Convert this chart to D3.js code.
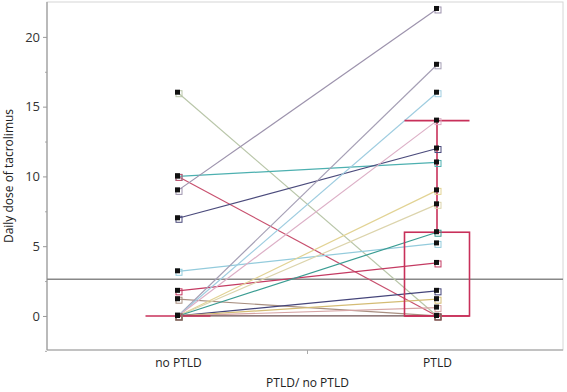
<!DOCTYPE html>
<html>
<head>
<meta charset="utf-8">
<script src="https://cdn.jsdelivr.net/npm/d3@7"></script>
<style>
  body { margin: 0; background: #fff; }
  svg { display: block; font-family: 'Open Sans', 'DejaVu Sans', sans-serif; }
</style>
</head>
<body>
<svg id="chart" width="567" height="392"></svg>
<script>
const categories = ['no PTLD', 'PTLD']

// one entry per patient: dose without PTLD, dose with PTLD
const noPtld = [16, 10, 10, 9, 7, 3.2, 1.8, 1.2, 0, 0, 0, 0, 0, 0, 0, 0, 0, 0]
const ptld = [0, 11, 0, 22, 12, 5.2, 3.8, 0, 18, 16, 14, 9, 8, 6, 1.8, 1.2, 0.6, 0]
const pairColors = [
  '#b9c6a9', '#4db0b0', '#c8506e', '#9d93ad', '#4b4b7c', '#93cbdc',
  '#c43a62', '#a88f80', '#a59fb5', '#9fcde0', '#dcafc6', '#e2d394',
  '#dcd4ac', '#3a9c92', '#45457a', '#d4bc74', '#d6a4a4', '#6e5050'
]

// [low whisker, q1, median, q3, high whisker]
const boxStats = [
  [0, 0, 0, 0, 0],
  [0, 0, 0, 6, 14]
]
const refLine = 2.63

const yTicks = [0, 5, 10, 15, 20]
const yMinorTicks = [-2.5, 2.5, 7.5, 12.5, 17.5]

const frame = { left: 47, right: 563, top: 2, bottom: 350 }
const boxColor = '#c8305a'

const svg = d3.select('#chart')

const x = d3.scalePoint().domain(categories).range([178, 437])
const y = d3.scaleLinear().domain([-2.44, 22.5]).range([frame.bottom, frame.top])

// frame
svg.append('rect')
  .attr('x', frame.left).attr('y', frame.top)
  .attr('width', frame.right - frame.left).attr('height', frame.bottom - frame.top)
  .attr('fill', 'none').attr('stroke', '#d6d6d6').attr('stroke-width', 1)

// y axis
const yAxis = svg.append('g').attr('transform', `translate(${frame.left},0)`)
  .call(d3.axisLeft(y).tickValues(yTicks).tickSize(4).tickPadding(3))
yAxis.select('.domain').remove()
yAxis.selectAll('line').attr('stroke', '#999')
yAxis.selectAll('text').attr('font-size', 13).attr('fill', '#333')
  .attr('font-family', "'Open Sans', 'DejaVu Sans', sans-serif")

const yMinor = svg.append('g').attr('transform', `translate(${frame.left},0)`)
  .call(d3.axisLeft(y).tickValues(yMinorTicks).tickSize(2).tickFormat(''))
yMinor.select('.domain').remove()
yMinor.selectAll('line').attr('stroke', '#aaa')

svg.append('line')
  .attr('x1', frame.left).attr('x2', frame.left)
  .attr('y1', frame.top).attr('y2', frame.bottom)
  .attr('stroke', '#999').attr('stroke-width', 1.2)

// x axis
svg.append('line')
  .attr('x1', frame.left).attr('x2', frame.right)
  .attr('y1', frame.bottom).attr('y2', frame.bottom)
  .attr('stroke', '#999').attr('stroke-width', 1.2)

const xAxis = svg.append('g').attr('transform', `translate(0,${frame.bottom})`)
  .call(d3.axisBottom(x).tickSize(0).tickPadding(8))
xAxis.select('.domain').remove()
xAxis.selectAll('text').attr('font-size', 12).attr('fill', '#222')
  .attr('font-family', "'Open Sans', 'DejaVu Sans', sans-serif")

const midX = (x(categories[0]) + x(categories[1])) / 2
svg.append('line')
  .attr('x1', midX).attr('x2', midX)
  .attr('y1', frame.bottom).attr('y2', frame.bottom + 4)
  .attr('stroke', '#aaa')

// axis titles
svg.append('text')
  .attr('x', midX).attr('y', 387)
  .attr('text-anchor', 'middle').attr('font-size', 12).attr('fill', '#222')
  .text('PTLD/ no PTLD')

svg.append('text')
  .attr('transform', `translate(13,${(frame.top + frame.bottom) / 2}) rotate(-90)`)
  .attr('text-anchor', 'middle').attr('font-size', 12).attr('fill', '#222')
  .text('Daily dose of tacrolimus')

// reference line
svg.append('line')
  .attr('x1', frame.left).attr('x2', frame.right)
  .attr('y1', y(refLine)).attr('y2', y(refLine))
  .attr('stroke', '#888').attr('stroke-width', 1.5)

// paired lines
const pairs = noPtld.map((v, i) => ({ a: v, b: ptld[i], color: pairColors[i] }))

svg.append('g').selectAll('line')
  .data(pairs)
  .join('line')
  .attr('x1', x(categories[0])).attr('y1', (d) => y(d.a))
  .attr('x2', x(categories[1])).attr('y2', (d) => y(d.b))
  .attr('stroke', (d) => d.color)
  .attr('stroke-width', 1.2)

// box plots
const boxW = 65
const boxes = svg.append('g')
boxStats.forEach((s, i) => {
  const cx = x(categories[i])
  const g = boxes.append('g').attr('stroke', boxColor).attr('fill', 'none').attr('stroke-width', 1.6)
  if (s[4] > s[3]) {
    g.append('line').attr('x1', cx).attr('x2', cx).attr('y1', y(s[3])).attr('y2', y(s[4]))
    g.append('line').attr('x1', cx - boxW / 2).attr('x2', cx + boxW / 2).attr('y1', y(s[4])).attr('y2', y(s[4]))
  }
  if (s[3] > s[1]) {
    g.append('rect')
      .attr('x', cx - boxW / 2).attr('y', y(s[3]))
      .attr('width', boxW).attr('height', y(s[1]) - y(s[3]))
  }
  g.append('line').attr('x1', cx - boxW / 2).attr('x2', cx + boxW / 2).attr('y1', y(s[2])).attr('y2', y(s[2]))
})

// markers
const points = []
pairs.forEach((p) => {
  points.push({ cat: categories[0], v: p.a, color: p.color })
  points.push({ cat: categories[1], v: p.b, color: p.color })
})

const marks = svg.append('g').selectAll('g')
  .data(points)
  .join('g')
  .attr('transform', (d) => `translate(${x(d.cat)},${y(d.v)})`)

marks.append('rect')
  .attr('x', -2).attr('y', -2).attr('width', 6).attr('height', 6)
  .attr('fill', 'none').attr('stroke', (d) => d.color).attr('stroke-width', 1)
marks.append('rect')
  .attr('x', -3).attr('y', -3).attr('width', 5).attr('height', 5)
  .attr('fill', '#111')
</script>
</body>
</html>
